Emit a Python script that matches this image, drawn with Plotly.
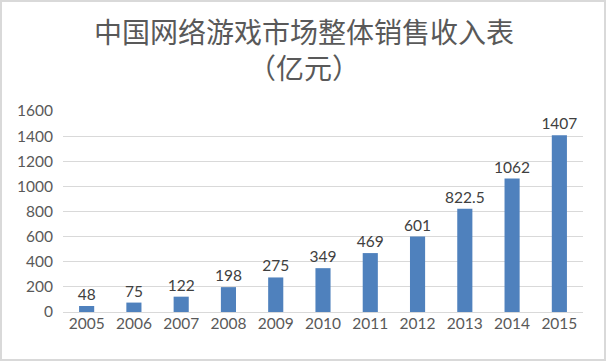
import plotly.graph_objects as go

years = ["2005", "2006", "2007", "2008", "2009", "2010", "2011", "2012", "2013", "2014", "2015"]
revenue = [48, 75, 122, 198, 275, 349, 469, 601, 822.5, 1062, 1407]
value_labels = ["48", "75", "122", "198", "275", "349", "469", "601", "822.5", "1062", "1407"]
y_ticks = [0, 200, 400, 600, 800, 1000, 1200, 1400, 1600]

W, H = 606, 361
L, R, T, B = 63, 23, 111, 49
pw, ph = W - L - R, H - T - B
FONT = "Lato, Liberation Sans, sans-serif"

fig = go.Figure(go.Bar(
    x=years, y=revenue, text=value_labels, textposition="outside",
    constraintext="none",
    textfont=dict(size=15.5, color="#404040", family=FONT),
    marker=dict(color="#4f81bd", line=dict(width=0)),
    cliponaxis=False, width=0.32, hoverinfo="skip",
))

def px_x(p):
    return (p - L) / pw

def px_y(p):
    return (H - B - p) / ph

fig.update_layout(
    width=W, height=H,
    margin=dict(l=L, r=R, t=T, b=B, autoexpand=False),
    paper_bgcolor="white", plot_bgcolor="white",
    showlegend=False,
    xaxis=dict(showgrid=False, showline=False, ticks="", automargin=False,
               tickfont=dict(size=15.5, color="#595959", family=FONT)),
    yaxis=dict(range=[0, 1600], tickvals=y_ticks, showgrid=True, gridcolor="#d9d9d9",
               gridwidth=1.3, zeroline=True, zerolinecolor="#d9d9d9", zerolinewidth=1.3,
               ticks="", ticklabelstandoff=9, automargin=False,
               tickfont=dict(size=15.5, color="#595959", family=FONT)),
    annotations=[
        dict(text="中国网络游戏市场整体销售收入表<br>（亿元）", xref="paper", yref="paper",
             x=px_x(304), y=px_y(49), showarrow=False, xanchor="center", yanchor="middle",
             align="center",
             font=dict(size=28, color="#595959", family="Noto Sans CJK SC")),
    ],
    shapes=[dict(type="rect", xref="paper", yref="paper",
                 x0=px_x(1), x1=px_x(605), y0=px_y(360), y1=px_y(1),
                 line=dict(color="#d9d9d9", width=2), layer="below")],
)

fig.write_html("out.html", config={"displayModeBar": False},
               post_script="document.body.style.margin='0';document.body.style.overflow='hidden';")
